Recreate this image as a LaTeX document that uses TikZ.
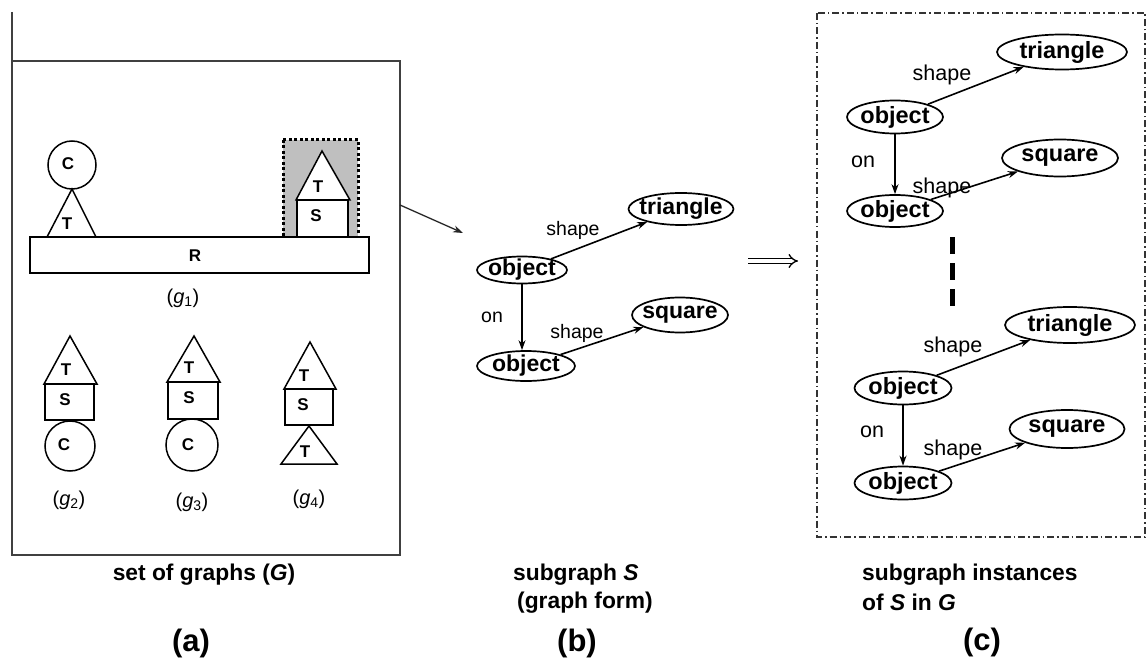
\documentclass[tikz,border=0pt]{standalone}
\usepackage{fontspec}
\setmainfont{Liberation Sans}
\usetikzlibrary{shapes.geometric,arrows.meta}
\begin{document}
\begin{tikzpicture}[x=1pt,y=-1pt,
 ent/.style={ellipse, draw, line width=1.7pt, inner xsep=-5pt, inner ysep=-4pt},
 entb/.style={ent, font=\fontsize{23}{25}\selectfont\bfseries},
 entc/.style={ent, font=\fontsize{23.5}{25}\selectfont\bfseries},
 rel/.style={-{Stealth[length=10pt,width=7pt]}, line width=1.6pt},
 lblb/.style={font=\fontsize{19.5}{21}\selectfont, inner sep=0pt},
 lblc/.style={font=\fontsize{21.5}{23}\selectfont, inner sep=0pt},
 shp/.style={line width=1.5pt},
 shlet/.style={font=\fontsize{17}{19}\selectfont\bfseries, inner sep=0pt},
 glab/.style={font=\fontsize{20}{22}\selectfont, inner sep=0pt},
 captxt/.style={font=\fontsize{22.8}{28}\selectfont\bfseries, align=left, inner sep=0pt},
 sublab/.style={font=\fontsize{31}{33}\selectfont\bfseries, inner sep=0pt},
 boxframe/.style={line width=1.6pt, draw=black!75}
]
\useasboundingbox (0,0) rectangle (1147,660);

% ---------- panel (a) ----------
\draw[boxframe] (12,12) -- (12,555) -- (400,555) -- (400,61) -- (12,61);

% g1
\fill[gray!50] (283,140) rectangle (358,237);
\draw[line width=3pt, dash pattern=on 3pt off 2.5pt] (283,140) rectangle (358,237);
\draw[shp] (72,165) circle (24);
\draw[shp] (72,189) -- (47,237) -- (96,237) -- cycle;
\draw[shp, fill=white] (30,237) rectangle (369,273);
\draw[shp, fill=white] (297,200) rectangle (348,237);
\draw[shp, fill=white] (322,151) -- (296,200) -- (350,200) -- cycle;
\node[shlet] (c1) at (68,164) {C};
\node[shlet] (t1) at (67,224) {T};
\node[shlet] (r1) at (195,256) {R};
\node[shlet] (t1b) at (318,187) {T};
\node[shlet] (s1) at (316,216) {S};
\node[glab] (g1) at (183,298) {(\textit{g}\textsubscript{1})};

% g2
\draw[shp] (70,336) -- (44,384) -- (97,384) -- cycle;
\draw[shp] (45,384) rectangle (94,420);
\draw[shp] (70,446) circle (25);
\node[shlet] (t2) at (66,370) {T};
\node[shlet] (s2) at (65,400) {S};
\node[shlet] (c2) at (64,445) {C};
\node[glab] (g2) at (69,500) {(\textit{g}\textsubscript{2})};

% g3
\draw[shp] (194,336) -- (167,382) -- (220,382) -- cycle;
\draw[line width=2.6pt] (168,382) rectangle (218,419);
\draw[shp] (192,445) circle (26);
\node[shlet] (t3) at (189,368) {T};
\node[shlet] (s3) at (189,398) {S};
\node[shlet] (c3) at (188,445) {C};
\node[glab] (g3) at (192,502) {(\textit{g}\textsubscript{3})};

% g4
\draw[shp] (310,342) -- (284,389) -- (336,389) -- cycle;
\draw[shp] (285,389) rectangle (333,425);
\draw[shp] (309,426) -- (281,464) -- (337,464) -- cycle;
\node[shlet] (t4) at (304,376) {T};
\node[shlet] (s4) at (303,405) {S};
\node[shlet] (t4b) at (305,452) {T};
\node[glab] (g4) at (309,499) {(\textit{g}\textsubscript{4})};

\node[captxt] (capa) at (204,575) {set of graphs (\textit{G})};
\node[sublab] (la) at (191,643) {(a)};

% arrow a -> b
\coordinate (aout) at (400,205);
\coordinate (bin) at (463,233);
\draw[-{Stealth[length=10pt,width=7pt]}, line width=1.3pt, draw=black!85] (aout) -- (bin);

% ---------- panel (b) ----------
\node[entb, minimum width=90pt, minimum height=27pt] (bo1) at (522,270) {object};
\node[entb, minimum width=105pt, minimum height=32pt] (btri) at (681,209) {triangle};
\node[entb, minimum width=96pt, minimum height=35pt] (bsq) at (680,315) {square};
\node[entb, minimum width=98pt, minimum height=30pt] (bo2) at (526,366) {object};
\draw[rel] (bo1) -- (btri);
\draw[rel] (bo2) -- (bsq);
\draw[rel, line width=1.2pt] (bo1.south) -- (bo1.south |- bo2.north);
\node[lblb] (bsh1) at (573,230) {shape};
\node[lblb] (bsh2) at (577,333) {shape};
\node[lblb] (bon) at (492,317) {on};

\node[captxt, anchor=west] (capb1) at (513,575) {subgraph \textit{S}};
\node[captxt, anchor=west] (capb2) at (517,603) {(graph form)};
\node[sublab] (lb) at (577,643) {(b)};

% double arrow
\coordinate (dstart) at (748,261);
\coordinate (dend) at (798,261);
\draw[double=white, double distance=3.5pt, line width=1.3pt, -{Implies}] (dstart) -- (dend);

% ---------- panel (c) ----------
\draw[line width=1.4pt, draw=black!80, dash pattern=on 7pt off 3pt on 1.5pt off 3pt] (817,13) rectangle (1145,537);

% instance 1
\node[entc, minimum width=130pt, minimum height=35pt] (ctri1) at (1062,52) {triangle};
\node[entc, minimum width=96pt, minimum height=33pt] (co11) at (895,117) {object};
\node[entc, minimum width=116pt, minimum height=37pt] (csq1) at (1060,158) {square};
\node[entc, minimum width=96pt, minimum height=32pt] (co12) at (895,211) {object};
\draw[rel] (co11) -- (ctri1);
\draw[rel] (co12) -- (csq1);
\draw[rel] (co11.south) -- (co11.south |- co12.north);
\node[lblc] (csh11) at (942,75) {shape};
\node[lblc] (csh12) at (942,188) {shape};
\node[lblc] (con1) at (863,162) {on};

% dots between instances
\coordinate (vtop) at (952,237);
\coordinate (vbot) at (952,307);
\draw[line width=5pt, dash pattern=on 17pt off 9pt] (vtop) -- (vbot);

% instance 2
\node[entc, minimum width=130pt, minimum height=36pt] (ctri2) at (1070,325) {triangle};
\node[entc, minimum width=97pt, minimum height=33pt] (co21) at (903,388) {object};
\node[entc, minimum width=115pt, minimum height=38pt] (csq2) at (1067,429) {square};
\node[entc, minimum width=97pt, minimum height=33pt] (co22) at (903,483) {object};
\draw[rel] (co21) -- (ctri2);
\draw[rel] (co22) -- (csq2);
\draw[rel, line width=2.2pt] (co21.south) -- (co21.south |- co22.north);
\node[lblc] (csh21) at (953,347) {shape};
\node[lblc] (csh22) at (953,450) {shape};
\node[lblc] (con2) at (872,432) {on};

\node[captxt, anchor=west] (capc1) at (862,575) {subgraph instances};
\node[captxt, anchor=west] (capc2) at (862,602) {of \textit{S} in \textit{G}};
\node[sublab] (lc) at (982,642) {(c)};
\end{tikzpicture}
\end{document}
